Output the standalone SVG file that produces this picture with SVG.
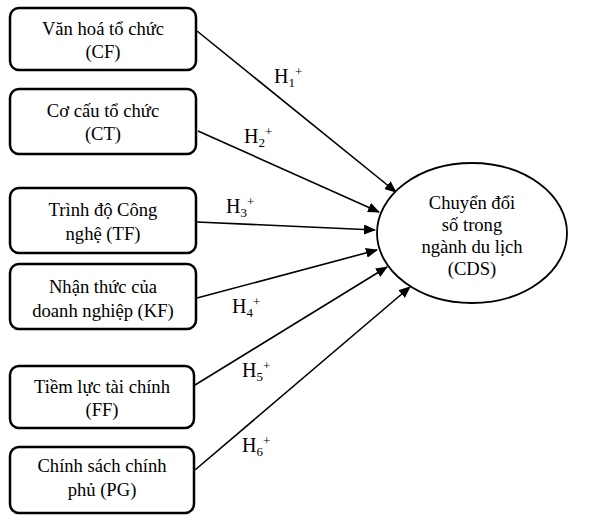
<svg xmlns="http://www.w3.org/2000/svg" width="597" height="527" viewBox="0 0 597 527">
<style>
.box{fill:#fff;stroke:#000;stroke-width:2.5}
.t{font-family:'Liberation Serif','DejaVu Serif',serif;font-size:18.6px;fill:#000;text-anchor:middle}
.h{font-family:'Liberation Serif','DejaVu Serif',serif;font-size:20px;fill:#000}
.s{font-size:13px}
.ln{stroke:#000;stroke-width:1.6;fill:none;marker-end:url(#ah)}
</style>
<defs>
<marker id="ah" markerWidth="12" markerHeight="10" refX="11" refY="5" orient="auto" markerUnits="userSpaceOnUse">
<path d="M0,0 L12,5 L0,10 z" fill="#000"/>
</marker>
</defs>
<rect width="597" height="527" fill="#fff"/>
<g id="connectors">
<line class="ln" x1="197" y1="31" x2="396" y2="192"/>
<line class="ln" x1="198" y1="131" x2="379" y2="212"/>
<line class="ln" x1="197" y1="222" x2="375" y2="230"/>
<line class="ln" x1="197" y1="298" x2="377" y2="250"/>
<line class="ln" x1="195" y1="385" x2="387" y2="267"/>
<line class="ln" x1="195" y1="470" x2="410" y2="287"/>
<text class="h" x="274" y="83">H<tspan class="s" dy="4">1</tspan><tspan class="s" dy="-11">+</tspan></text>
<text class="h" x="244" y="143">H<tspan class="s" dy="4">2</tspan><tspan class="s" dy="-11">+</tspan></text>
<text class="h" x="226" y="213">H<tspan class="s" dy="4">3</tspan><tspan class="s" dy="-11">+</tspan></text>
<text class="h" x="232" y="313">H<tspan class="s" dy="4">4</tspan><tspan class="s" dy="-11">+</tspan></text>
<text class="h" x="242" y="377">H<tspan class="s" dy="4">5</tspan><tspan class="s" dy="-11">+</tspan></text>
<text class="h" x="242" y="452">H<tspan class="s" dy="4">6</tspan><tspan class="s" dy="-11">+</tspan></text>
</g>
<g id="CF">
<rect class="box" x="10" y="8" width="186" height="62" rx="9"/>
<text class="t" x="103" y="35">Văn hoá tổ chức</text>
<text class="t" x="103" y="58">(CF)</text>
</g>
<g id="CT">
<rect class="box" x="10" y="89" width="186" height="65" rx="9"/>
<text class="t" x="103" y="117">Cơ cấu tổ chức</text>
<text class="t" x="103" y="140">(CT)</text>
</g>
<g id="TF">
<rect class="box" x="10" y="188" width="186" height="65" rx="9"/>
<text class="t" x="103" y="216">Trình độ Công</text>
<text class="t" x="103" y="240">nghệ (TF)</text>
</g>
<g id="KF">
<rect class="box" x="10" y="264" width="186" height="65" rx="9"/>
<text class="t" x="103" y="293">Nhận thức của</text>
<text class="t" x="103" y="317">doanh nghiệp (KF)</text>
</g>
<g id="FF">
<rect class="box" x="10" y="366" width="184" height="62" rx="9"/>
<text class="t" x="102" y="393">Tiềm lực tài chính</text>
<text class="t" x="102" y="416">(FF)</text>
</g>
<g id="PG">
<rect class="box" x="10" y="447" width="184" height="66" rx="9"/>
<text class="t" x="102" y="472">Chính sách chính</text>
<text class="t" x="102" y="496">phủ (PG)</text>
</g>
<g id="CDS">
<ellipse cx="472" cy="233" rx="95" ry="70" fill="#fff" stroke="#000" stroke-width="1.8"/>
<text class="t" x="472" y="209">Chuyển đổi</text>
<text class="t" x="472" y="231">số trong</text>
<text class="t" x="472" y="253">ngành du lịch</text>
<text class="t" x="472" y="275">(CDS)</text>
</g>
</svg>
